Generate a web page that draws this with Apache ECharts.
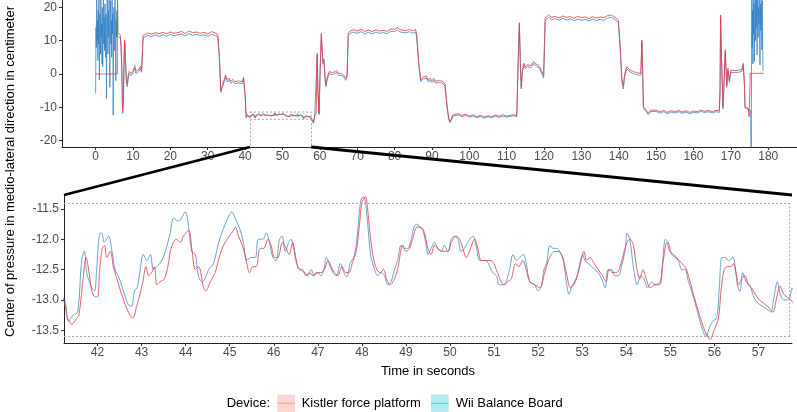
<!DOCTYPE html>
<html>
<head>
<meta charset="utf-8">
<script src="https://cdn.jsdelivr.net/npm/echarts@6/dist/echarts.min.js"></script>
<style>
  html, body { margin: 0; padding: 0; background: #fff; }
  #chart { width: 797px; height: 412px; }
</style>
</head>
<body>
<div id="chart"></div>
<script>
// time in seconds, centre of pressure (medio-lateral, cm)
const kistlerStart = [[0,0],[5.8,0],[5.85,24],[6.0,12.4],[6.3,12.0],[6.6,11.6],[6.8,9],[7.0,2],[7.2,-11],[7.4,-8],[7.6,6],[7.75,10.2],[8.0,4],[8.2,-1.5],[8.4,-3],[8.7,-0.5],[9.0,0.8],[9.5,0.2],[10.0,1.0],[10.5,2.5],[10.8,0.8],[11.2,0.3],[11.6,1.5],[12.0,2.3],[12.3,1.2],[12.7,11.5],[13,12.0],[14,12.3],[15,11.9],[16,12.4],[17,12.1],[18,12.5],[19,12.0],[20,12.6],[21,12.2],[22,12.4],[23,12.8],[24,12.1],[25,12.9],[26,12.4],[27,12.6],[28,12.2],[29,12.5],[30,12.0],[31,12.7],[32,12.3],[32.7,11.8],[33.1,6],[33.5,-5],[33.9,-3.5],[34.3,-2],[34.8,-0.3],[35.2,-1.8],[35.7,-1.2],[36.2,-2.2],[36.7,-1.6],[37.2,-2.3],[37.7,-1.8],[38.2,-2.1],[38.7,-1.9],[39.2,-2.3],[39.6,-1.0],[40.0,-6],[40.3,-12.8],[40.6,-12.2],[41.0,-12.6]];
const kistlerZoom = [[41.25,-13.05],[41.32,-13.3],[41.42,-13.4],[41.53,-13.3],[41.58,-13.25],[41.68,-12.6],[41.74,-12.3],[41.82,-12.6],[41.87,-12.85],[41.95,-12.95],[42.0,-12.95],[42.05,-12.5],[42.11,-12.15],[42.16,-12.1],[42.21,-12.3],[42.29,-12.2],[42.36,-12.45],[42.48,-12.75],[42.59,-13.0],[42.7,-13.2],[42.8,-13.3],[42.89,-13.1],[42.93,-13.0],[43.03,-12.7],[43.1,-12.45],[43.16,-12.6],[43.23,-12.55],[43.29,-12.45],[43.35,-12.75],[43.42,-12.7],[43.52,-12.65],[43.61,-12.4],[43.67,-12.15],[43.79,-12.0],[43.88,-12.05],[43.95,-11.95],[44.07,-11.85],[44.14,-12.15],[44.22,-12.5],[44.29,-12.45],[44.41,-12.8],[44.46,-12.85],[44.56,-12.7],[44.67,-12.55],[44.78,-12.25],[44.86,-12.1],[44.94,-12.0],[45.09,-11.85],[45.13,-11.8],[45.2,-11.95],[45.31,-12.15],[45.39,-12.4],[45.45,-12.55],[45.53,-12.45],[45.6,-12.45],[45.69,-12.15],[45.77,-12.15],[45.87,-12.0],[45.94,-12.1],[46.02,-12.3],[46.09,-12.3],[46.2,-12.05],[46.28,-12.15],[46.35,-12.25],[46.43,-12.05],[46.5,-12.3],[46.58,-12.5],[46.65,-12.5],[46.73,-12.6],[46.81,-12.55],[46.89,-12.6],[46.96,-12.55],[47.07,-12.55],[47.15,-12.5],[47.23,-12.35],[47.3,-12.45],[47.38,-12.55],[47.45,-12.6],[47.55,-12.45],[47.63,-12.55],[47.7,-12.55],[47.78,-12.4],[47.87,-12.2],[47.94,-11.8],[48.0,-11.4],[48.08,-11.3],[48.13,-11.5],[48.19,-11.95],[48.26,-12.3],[48.34,-12.5],[48.41,-12.55],[48.49,-12.5],[48.56,-12.65],[48.64,-12.75],[48.74,-12.65],[48.81,-12.5],[48.93,-12.1],[49.0,-12.2],[49.08,-12.15],[49.15,-12.0],[49.25,-11.8],[49.32,-11.8],[49.4,-11.85],[49.5,-12.15],[49.57,-12.25],[49.65,-12.1],[49.72,-12.15],[49.83,-12.2],[49.95,-12.2],[50.03,-12.05],[50.14,-11.95],[50.22,-12.0],[50.29,-12.15],[50.37,-12.3],[50.44,-12.2],[50.56,-12.0],[50.63,-12.15],[50.71,-12.35],[50.82,-12.35],[50.93,-12.35],[51.05,-12.5],[51.16,-12.7],[51.24,-12.75],[51.31,-12.7],[51.39,-12.65],[51.49,-12.4],[51.56,-12.45],[51.65,-12.35],[51.73,-12.5],[51.81,-12.7],[51.92,-12.75],[52.04,-12.8],[52.13,-12.6],[52.23,-12.35],[52.3,-12.25],[52.38,-12.2],[52.45,-12.2],[52.53,-12.25],[52.61,-12.45],[52.68,-12.7],[52.73,-12.8],[52.81,-12.75],[52.89,-12.6],[52.96,-12.4],[53.04,-12.2],[53.1,-12.35],[53.17,-12.3],[53.27,-12.4],[53.36,-12.5],[53.46,-12.6],[53.54,-12.7],[53.61,-12.5],[53.69,-12.55],[53.78,-12.55],[53.86,-12.45],[53.95,-12.2],[54.02,-12.05],[54.08,-12.0],[54.16,-12.1],[54.23,-12.45],[54.31,-12.65],[54.38,-12.5],[54.45,-12.65],[54.54,-12.8],[54.65,-12.75],[54.75,-12.75],[54.84,-12.35],[54.92,-12.05],[54.99,-12.2],[55.07,-12.25],[55.14,-12.3],[55.26,-12.4],[55.33,-12.45],[55.41,-12.6],[55.52,-12.9],[55.64,-13.2],[55.75,-13.45],[55.84,-13.6],[55.9,-13.65],[55.99,-13.5],[56.09,-13.3],[56.15,-12.85],[56.22,-12.5],[56.3,-12.45],[56.37,-12.45],[56.43,-12.4],[56.49,-12.55],[56.55,-12.75],[56.62,-12.65],[56.69,-12.6],[56.77,-12.75],[56.84,-12.8],[56.92,-12.9],[57.02,-13.0],[57.11,-13.05],[57.2,-13.1],[57.33,-13.2],[57.4,-13.0],[57.49,-12.77],[57.57,-12.9],[57.64,-12.95],[57.73,-13.0]];
const kistlerEnd = [[57.9,-13.2],[58.3,-14.5],[58.6,-12.6],[59.0,-12.0],[59.3,6.2],[59.5,-5],[59.8,-11.7],[60.1,2],[60.4,12.2],[60.6,8],[60.8,3.7],[61.1,4.5],[61.4,-1],[61.6,-3.3],[62.0,-1],[62.5,0.7],[63.0,0.9],[63.5,0.4],[64.0,0.8],[64.5,1.1],[65.0,0.2],[65.5,-0.2],[66.0,0.1],[66.5,-0.6],[67.0,-1.3],[67.3,0],[67.6,12.2],[68,12.8],[69,13.3],[70,12.9],[71,13.4],[72,12.8],[73,13.2],[74,12.7],[75,13.3],[76,12.9],[77,13.1],[78,12.8],[79,13.5],[80,13.4],[80.8,13.9],[81.5,13.3],[82,13.6],[83,13.0],[84,13.4],[85,12.9],[85.6,13.4],[85.9,12.0],[86.5,3],[87,-1.8],[87.5,-1.0],[88,-1.5],[88.5,-0.6],[89,-1.8],[89.5,-1.2],[90,-2.0],[90.5,-1.3],[91,-2.2],[91.5,-1.7],[92,-1.9],[92.5,-1.5],[93,-2.3],[93.5,-3],[94,-9],[94.5,-13.2],[94.8,-14.3],[95.2,-13.5],[95.6,-12.3],[96,-12.1],[97,-11.9],[98,-12.4],[99,-12.1],[100,-12.6],[101,-12.2],[102,-12.8],[103,-12.4],[104,-12.9],[105,-12.5],[106,-12.8],[107,-12.3],[108,-12.7],[109,-12.2],[110,-12.6],[111,-12.4],[112,-12.2],[112.7,-12.5],[113.1,5],[113.4,15.4],[113.7,2],[113.9,-3.8],[114.2,1.0],[114.6,3.2],[115,2.2],[115.5,2.8],[115.9,3.2],[116.5,2.5],[117.2,3.7],[117.8,3.0],[118.5,2.7],[119,1.8],[119.4,0.7],[119.9,-0.3],[120.3,16.7],[121.2,17.7],[122,17.0],[123,17.3],[124,16.8],[125,17.4],[126,17.0],[127,17.2],[128,16.7],[129,17.3],[130,16.9],[131,17.1],[132,16.6],[133,17.2],[134,16.8],[135,17.1],[136,16.9],[137,17.5],[138,17.7],[139,17.0],[139.9,16.2],[140.4,8],[140.8,-1],[141.2,-3.5],[141.6,0],[142.1,2.2],[142.6,1.8],[143,1.2],[143.5,1.5],[144,0.7],[144.5,1.0],[145,0.3],[145.5,0.6],[145.9,0.3],[146.2,10.2],[146.6,-9.8],[147.3,-10.8],[147.9,-11.8],[148.5,-10.9],[149,-11.4],[150,-10.8],[151,-11.3],[152,-10.9],[153,-11.5],[154,-11.0],[155,-11.3],[156,-10.9],[157,-11.4],[158,-11.0],[159,-11.5],[160,-11.1],[161,-11.3],[162,-10.8],[163,-11.2],[164,-10.9],[165,-11.3],[166,-10.9],[166.9,-11.0],[167.1,-5],[167.25,17.7],[167.5,5],[167.9,-9.8],[168.5,7.2],[168.9,-3.3],[169.2,1.7],[169.6,-1.8],[170,1.2],[170.5,0.8],[171,1.0],[171.5,0.6],[172,1.1],[172.5,0.8],[173,1.4],[173.3,3.2],[173.6,-2],[173.8,-9.8],[174.6,-10.3],[174.9,-12.8],[175.2,0.2],[178.7,0.2]];

const wiiStart = [[0,-5.8],[0.1,14],[0.2,8],[0.3,25],[0.4,10],[0.5,16],[0.6,4],[0.7,19],[0.8,9],[0.9,24],[1.0,-1.8],[1.1,12],[1.2,18],[1.3,6],[1.4,23],[1.5,11],[1.6,15],[1.7,3],[1.8,20],[1.9,2.2],[2.0,13],[2.1,26],[2.2,9],[2.3,17],[2.4,7],[2.5,21],[2.6,12],[2.7,5],[2.8,18],[2.9,-7.3],[3.0,10],[3.1,24],[3.2,14],[3.3,6],[3.4,19],[3.5,11],[3.6,27],[3.7,8],[3.8,-4],[3.9,15],[4.0,22],[4.1,9],[4.2,16],[4.3,5],[4.4,25],[4.5,12],[4.6,18],[4.7,-12.3],[4.8,10],[4.9,20],[5.0,7],[5.1,14],[5.2,23],[5.3,9],[5.4,-2],[5.5,16],[5.6,11],[5.7,19],[5.8,11.5],[6.0,11.6],[6.3,11.2],[6.6,10.8],[6.8,8],[7.0,1],[7.25,-11.8],[7.45,-8.5],[7.65,5],[7.8,9.5],[8.05,3],[8.25,-2.5],[8.45,-3.8],[8.75,-1.2],[9.0,0.1],[9.5,-0.5],[10,0.3],[10.5,1.8],[10.8,0.1],[11.2,-0.4],[11.6,0.8],[12,1.6],[12.3,0.5],[12.7,10.8],[13,11.3],[14,11.6],[15,11.2],[16,11.7],[17,11.3],[18,11.8],[19,11.3],[20,11.9],[21,11.4],[22,11.7],[23,12.0],[24,11.4],[25,12.1],[26,11.6],[27,11.9],[28,11.5],[29,11.8],[30,11.3],[31,11.9],[32,11.6],[32.7,11.0],[33.1,5],[33.5,-5.5],[33.9,-4],[34.3,-2.6],[34.8,-0.9],[35.2,-2.4],[35.7,-1.8],[36.2,-2.8],[36.7,-2.2],[37.2,-2.9],[37.7,-2.4],[38.2,-2.7],[38.7,-2.5],[39.2,-2.9],[39.6,-1.5],[40.0,-6.5],[40.3,-13.2],[40.6,-12.5],[41.0,-12.9]];
const wiiZoom = [[41.25,-13.0],[41.34,-13.35],[41.45,-13.25],[41.55,-13.2],[41.64,-12.35],[41.7,-12.2],[41.77,-12.6],[41.93,-12.85],[41.98,-12.5],[42.06,-11.9],[42.1,-11.9],[42.15,-12.05],[42.25,-11.95],[42.33,-12.2],[42.4,-12.5],[42.5,-12.65],[42.63,-12.95],[42.74,-13.1],[42.78,-13.1],[42.84,-12.85],[42.9,-12.8],[42.97,-12.5],[43.04,-12.25],[43.12,-12.35],[43.2,-12.25],[43.27,-12.5],[43.35,-12.45],[43.46,-12.35],[43.54,-12.2],[43.65,-11.9],[43.73,-11.65],[43.84,-11.7],[43.91,-11.65],[43.99,-11.55],[44.04,-11.65],[44.14,-12.2],[44.22,-12.25],[44.29,-12.6],[44.37,-12.7],[44.44,-12.65],[44.52,-12.5],[44.63,-12.4],[44.75,-12.05],[44.82,-11.9],[44.9,-11.75],[45.05,-11.55],[45.12,-11.65],[45.24,-11.85],[45.31,-12.05],[45.39,-12.35],[45.47,-12.3],[45.58,-12.3],[45.65,-12.0],[45.75,-12.0],[45.83,-11.9],[45.9,-12.05],[45.98,-12.3],[46.05,-12.35],[46.13,-12.0],[46.19,-11.95],[46.26,-12.2],[46.34,-12.05],[46.39,-12.0],[46.45,-12.15],[46.52,-12.4],[46.6,-12.5],[46.7,-12.55],[46.77,-12.6],[46.85,-12.5],[46.92,-12.6],[47.0,-12.55],[47.07,-12.6],[47.14,-12.5],[47.19,-12.3],[47.26,-12.4],[47.34,-12.55],[47.42,-12.6],[47.51,-12.4],[47.59,-12.55],[47.66,-12.62],[47.73,-12.4],[47.81,-12.3],[47.87,-12.1],[47.93,-11.65],[47.98,-11.35],[48.04,-11.3],[48.1,-11.5],[48.16,-12.0],[48.21,-12.3],[48.29,-12.5],[48.36,-12.6],[48.44,-12.55],[48.51,-12.6],[48.59,-12.75],[48.66,-12.7],[48.74,-12.5],[48.81,-12.35],[48.89,-12.1],[48.97,-12.15],[49.04,-12.15],[49.12,-12.0],[49.18,-11.8],[49.25,-11.75],[49.31,-11.8],[49.38,-11.85],[49.46,-12.1],[49.5,-12.25],[49.57,-12.15],[49.65,-12.05],[49.72,-12.15],[49.8,-12.2],[49.87,-12.1],[49.95,-12.2],[50.03,-12.0],[50.1,-11.95],[50.18,-12.0],[50.25,-12.2],[50.33,-12.15],[50.4,-12.05],[50.52,-11.95],[50.59,-12.1],[50.67,-12.35],[50.74,-12.35],[50.82,-12.35],[50.9,-12.45],[50.97,-12.55],[51.05,-12.6],[51.12,-12.75],[51.2,-12.75],[51.27,-12.7],[51.35,-12.5],[51.43,-12.25],[51.5,-12.35],[51.58,-12.3],[51.66,-12.25],[51.73,-12.4],[51.81,-12.7],[51.92,-12.75],[52.0,-12.85],[52.08,-12.75],[52.13,-12.5],[52.19,-12.4],[52.27,-12.1],[52.34,-12.15],[52.42,-12.15],[52.49,-12.2],[52.57,-12.35],[52.64,-12.7],[52.7,-12.9],[52.78,-12.75],[52.86,-12.65],[52.93,-12.45],[53.01,-12.25],[53.06,-12.35],[53.14,-12.4],[53.21,-12.45],[53.29,-12.5],[53.36,-12.55],[53.44,-12.65],[53.52,-12.8],[53.59,-12.5],[53.67,-12.5],[53.74,-12.6],[53.82,-12.6],[53.89,-12.45],[53.97,-12.2],[54.02,-11.9],[54.08,-12.0],[54.16,-12.45],[54.25,-12.75],[54.33,-12.6],[54.4,-12.65],[54.48,-12.8],[54.58,-12.7],[54.65,-12.75],[54.77,-12.7],[54.83,-12.3],[54.89,-12.0],[54.95,-12.05],[55.03,-12.25],[55.11,-12.3],[55.18,-12.35],[55.26,-12.5],[55.33,-12.5],[55.41,-12.7],[55.48,-12.85],[55.6,-13.15],[55.71,-13.45],[55.81,-13.6],[55.89,-13.45],[55.96,-13.35],[56.05,-13.3],[56.11,-12.8],[56.17,-12.3],[56.24,-12.3],[56.32,-12.35],[56.42,-12.3],[56.47,-12.45],[56.52,-12.75],[56.58,-12.86],[56.64,-12.55],[56.72,-12.7],[56.8,-12.75],[56.89,-12.95],[56.98,-13.05],[57.08,-13.1],[57.19,-13.15],[57.28,-13.2],[57.34,-13.0],[57.43,-12.7],[57.49,-12.9],[57.58,-13.0],[57.68,-13.0],[57.76,-12.8]];
const wiiEnd = [[57.9,-13.5],[58.3,-14.8],[58.6,-12.9],[59.0,-12.4],[59.3,5.5],[59.5,-5.5],[59.8,-12.2],[60.1,1.5],[60.4,11.6],[60.6,7.5],[60.8,3.0],[61.1,3.8],[61.4,-1.6],[61.6,-3.8],[62,-1.6],[62.5,0.1],[63,0.3],[63.5,-0.2],[64,0.2],[64.5,0.5],[65,-0.4],[65.5,-0.8],[66,-0.5],[66.5,-1.2],[67,-1.9],[67.3,-0.6],[67.6,11.5],[68,12.1],[69,12.6],[70,12.2],[71,12.7],[72,12.0],[73,12.5],[74,12.0],[75,12.6],[76,12.2],[77,12.4],[78,12.1],[79,12.8],[80,12.7],[80.8,13.2],[81.5,12.6],[82,12.9],[83,12.3],[84,12.7],[85,12.2],[85.6,12.6],[85.9,11.3],[86.5,2.4],[87,-2.3],[87.5,-1.6],[88,-2.1],[88.5,-1.2],[89,-2.4],[89.5,-1.8],[90,-2.6],[90.5,-1.9],[91,-2.8],[91.5,-2.3],[92,-2.5],[92.5,-2.1],[93,-2.9],[93.5,-3.6],[94,-9.6],[94.5,-13.6],[94.8,-14.6],[95.2,-13.9],[95.6,-12.7],[96,-12.5],[97,-12.3],[98,-12.8],[99,-12.4],[100,-12.9],[101,-12.6],[102,-13.1],[103,-12.7],[104,-13.2],[105,-12.8],[106,-13.1],[107,-12.6],[108,-13.0],[109,-12.6],[110,-12.9],[111,-12.7],[112,-12.5],[112.7,-12.8],[113.1,4],[113.4,14.8],[113.7,1.2],[113.9,-4.5],[114.2,0.3],[114.6,2.6],[115,1.6],[115.5,2.2],[115.9,2.6],[116.5,1.9],[117.2,3.1],[117.8,2.4],[118.5,2.1],[119,1.2],[119.4,0.1],[119.9,-1.2],[120.3,16.0],[121.2,17.0],[122,16.3],[123,16.6],[124,16.1],[125,16.7],[126,16.2],[127,16.5],[128,16.0],[129,16.5],[130,16.1],[131,16.4],[132,15.9],[133,16.5],[134,16.0],[135,16.4],[136,16.1],[137,16.8],[138,17.0],[139,16.3],[139.9,15.5],[140.4,7],[140.8,-2],[141.2,-4.5],[141.6,-0.7],[142.1,1.6],[142.6,1.2],[143,0.6],[143.5,0.9],[144,0.1],[144.5,0.4],[145,-0.3],[145.5,0],[145.9,-0.3],[146.2,9.5],[146.6,-10.3],[147.3,-11.3],[147.9,-12.2],[148.5,-11.3],[149,-11.8],[150,-11.2],[151,-11.7],[152,-11.3],[153,-11.9],[154,-11.4],[155,-11.7],[156,-11.3],[157,-11.8],[158,-11.4],[159,-11.9],[160,-11.5],[161,-11.7],[162,-11.2],[163,-11.6],[164,-11.3],[165,-11.7],[166,-11.3],[166.9,-11.5],[167.1,-6],[167.25,16.8],[167.5,4],[167.9,-10.5],[168.5,6.5],[168.9,-4],[169.2,1],[169.6,-2.5],[170,0.5],[170.5,0.1],[171,0.4],[171.5,-0.1],[172,0.5],[172.5,0.2],[173,0.8],[173.3,2.6],[173.6,-2.5],[173.8,-10.2],[174.6,-10.6],[174.9,-10.5],[175.3,-10.8],[175.45,-30],[175.55,10],[175.6,24],[175.7,8],[175.8,19],[175.9,3],[176.0,26],[176.1,12],[176.2,21],[176.3,3.7],[176.4,17],[176.5,25],[176.6,10],[176.7,22],[176.8,14],[176.9,27],[177.0,5.7],[177.1,18],[177.2,24],[177.3,11],[177.4,20],[177.5,15],[177.6,26],[177.7,9],[177.8,2.7],[177.9,21],[178.0,13],[178.1,23],[178.2,16],[178.3,7.2],[178.4,22],[178.5,12],[178.6,1]];

const overviewTicks = [0,10,20,30,40,50,60,70,80,90,100,110,120,130,140,150,160,170,180];
const overviewYTicks = [-20,-10,0,10,20];
const zoomTicks = [42,43,44,45,46,47,48,49,50,51,52,53,54,55,56,57];
const zoomYTicks = [-13.5,-13.0,-12.5,-12.0,-11.5];
const zoomX = [41.3, 57.7];
const zoomY = [-13.6, -11.4];

const FONT = "'Liberation Sans', Arial, Helvetica, sans-serif";
const RED = '#ea3b43';
const BLUE = '#2f7fc4';
const OV_X = [-9, 187.7], OV_Y = [-21.89, 22.19];
const ZM_X = [41.24, 57.76], ZM_Y = [-13.71, -11.27];

const kistler = kistlerStart.concat(kistlerZoom, kistlerEnd);
const wii = wiiStart.concat(wiiZoom, wiiEnd);

const axisLine = { show: true, onZero: false, lineStyle: { color: '#222', width: 1 } };
const tick = (vals) => ({ show: true, length: 3, lineStyle: { color: '#333', width: 1 }, customValues: vals });
const label = (vals, margin, fmt) => ({ color: '#4d4d4d', fontSize: 12, fontFamily: FONT, margin: margin, customValues: vals, formatter: fmt });

const dotted = { color: '#aaa', width: 1, type: [2, 2] };

const chart = echarts.init(document.getElementById('chart'), null, { renderer: 'canvas' });

chart.setOption({
  animation: false,
  backgroundColor: '#fff',
  grid: [
    { left: 62, top: 0, width: 735, height: 147 },
    { left: 64, top: 195, width: 728, height: 148 }
  ],
  xAxis: [
    { type: 'value', gridIndex: 0, min: OV_X[0], max: OV_X[1], axisLine, axisTick: tick(overviewTicks), axisLabel: label(overviewTicks, 4), splitLine: { show: false } },
    { type: 'value', gridIndex: 1, min: ZM_X[0], max: ZM_X[1], axisLine, axisTick: tick(zoomTicks), axisLabel: label(zoomTicks, 4), splitLine: { show: false },
      name: 'Time in seconds', nameLocation: 'middle', nameGap: 22, nameTextStyle: { color: '#000', fontSize: 13, fontFamily: FONT } }
  ],
  yAxis: [
    { type: 'value', gridIndex: 0, min: OV_Y[0], max: OV_Y[1], axisLine, axisTick: tick(overviewYTicks), axisLabel: label(overviewYTicks, 5), splitLine: { show: false } },
    { type: 'value', gridIndex: 1, min: ZM_Y[0], max: ZM_Y[1], axisLine, axisTick: tick(zoomYTicks), axisLabel: label(zoomYTicks, 5, v => v.toFixed(1)), splitLine: { show: false } }
  ],
  series: [
    {
      name: 'Wii Balance Board', type: 'line', xAxisIndex: 0, yAxisIndex: 0, data: wii,
      showSymbol: false, symbol: 'none', silent: true, clip: true,
      lineStyle: { color: BLUE, width: 1, opacity: 0.75 },
      markArea: { silent: true, itemStyle: { color: 'rgba(0,0,0,0)', borderColor: '#aaa', borderWidth: 1, borderType: [2, 2] },
        data: [[{ coord: [zoomX[0], zoomY[1]] }, { coord: [zoomX[1], zoomY[0]] }]] },
      markLine: { silent: true, symbol: 'none', label: { show: false }, lineStyle: dotted,
        data: [
          [{ coord: [zoomX[0], zoomY[0]] }, { coord: [zoomX[0], OV_Y[0]] }],
          [{ coord: [zoomX[1], zoomY[0]] }, { coord: [zoomX[1], OV_Y[0]] }]
        ] }
    },
    {
      name: 'Kistler force platform', type: 'line', xAxisIndex: 0, yAxisIndex: 0, data: kistler,
      showSymbol: false, symbol: 'none', silent: true, clip: true,
      lineStyle: { color: RED, width: 1, opacity: 0.8 }
    },
    {
      name: 'Wii Balance Board', type: 'line', xAxisIndex: 1, yAxisIndex: 1, data: wii,
      showSymbol: false, symbol: 'none', silent: true, clip: true, smooth: 0.35,
      lineStyle: { color: BLUE, width: 1, opacity: 0.7 },
      markLine: { silent: true, symbol: 'none', label: { show: false }, lineStyle: dotted,
        data: [
          [{ coord: [ZM_X[0], zoomY[1]] }, { coord: [ZM_X[1], zoomY[1]] }],
          [{ coord: [ZM_X[0], zoomY[0]] }, { coord: [ZM_X[1], zoomY[0]] }],
          [{ coord: [zoomX[1], zoomY[0]] }, { coord: [zoomX[1], zoomY[1]] }]
        ] }
    },
    {
      name: 'Kistler force platform', type: 'line', xAxisIndex: 1, yAxisIndex: 1, data: kistler,
      showSymbol: false, symbol: 'none', silent: true, clip: true, smooth: 0.35,
      lineStyle: { color: RED, width: 1, opacity: 0.8 }
    }
  ]
});

// zoom connectors, y title and legend
const a = chart.convertToPixel({ gridIndex: 0 }, [zoomX[0], OV_Y[0]]);
const b = chart.convertToPixel({ gridIndex: 0 }, [zoomX[1], OV_Y[0]]);
const c = chart.convertToPixel({ gridIndex: 1 }, [ZM_X[0], ZM_Y[1]]);
const d = chart.convertToPixel({ gridIndex: 1 }, [ZM_X[1], ZM_Y[1]]);

const txt = (x, y, text, extra) => Object.assign({ type: 'text', x: x, y: y,
  style: { text: text, fill: '#000', fontSize: 13, fontFamily: FONT, textVerticalAlign: 'middle' } }, extra || {});

chart.setOption({
  graphic: [
    { type: 'line', z: 10, shape: { x1: a[0], y1: a[1], x2: c[0], y2: c[1] }, style: { stroke: '#000', lineWidth: 2.8 } },
    { type: 'line', z: 10, shape: { x1: b[0], y1: b[1], x2: d[0], y2: d[1] }, style: { stroke: '#000', lineWidth: 2.8 } },
    { type: 'text', x: 10, y: 171.5, rotation: Math.PI / 2,
      style: { text: 'Center of pressure in medio-lateral direction in centimeter', fill: '#000', fontSize: 13, fontFamily: FONT, textAlign: 'center', textVerticalAlign: 'middle' } },
    txt(226.7, 403.3, 'Device:'),
    { type: 'rect', shape: { x: 277.3, y: 394.5, width: 17.7, height: 17.7 }, style: { fill: '#fdd6d3' } },
    { type: 'line', shape: { x1: 277.3, y1: 403.3, x2: 295, y2: 403.3 }, style: { stroke: '#f59a95', lineWidth: 1 } },
    txt(301.7, 403.3, 'Kistler force platform'),
    { type: 'rect', shape: { x: 431, y: 394.5, width: 17.7, height: 17.7 }, style: { fill: '#b3ecee' } },
    { type: 'line', shape: { x1: 431, y1: 403.3, x2: 448.7, y2: 403.3 }, style: { stroke: '#4ccfd2', lineWidth: 1 } },
    txt(455.7, 403.3, 'Wii Balance Board')
  ]
});
</script>
</body>
</html>
